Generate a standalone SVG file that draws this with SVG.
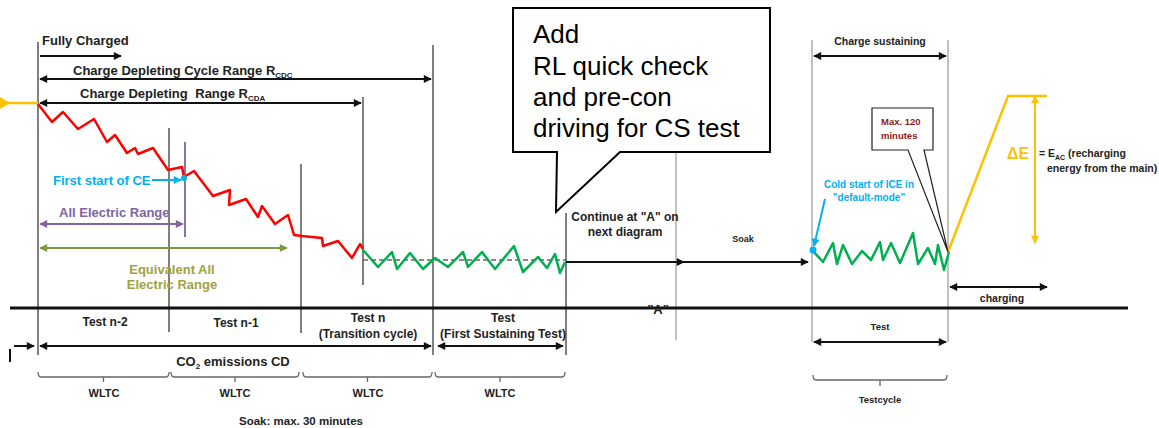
<svg xmlns="http://www.w3.org/2000/svg" width="1159" height="428" viewBox="0 0 1159 428">
<style>
text{font-family:"Liberation Sans",Arial,sans-serif;font-weight:bold;fill:#222}
.c{text-anchor:middle}
.vl{stroke:#555;stroke-width:1.5;fill:none}
.vll{stroke:#999;stroke-width:1.2;fill:none}
.ar{stroke:#111;stroke-width:2;fill:none;marker-end:url(#ah)}
.dar{stroke:#111;stroke-width:2;fill:none;marker-start:url(#ah);marker-end:url(#ah)}
.br{stroke:#666;stroke-width:1.3;fill:none}
.call{font-weight:normal;font-size:26px;fill:#000}
</style>
<defs>
<marker id="ah" viewBox="0 0 10 10" refX="9" refY="5" markerWidth="4.5" markerHeight="4" orient="auto-start-reverse"><path d="M0,0L10,5L0,10z" fill="#111"/></marker>
<marker id="ahp" viewBox="0 0 10 10" refX="9" refY="5" markerWidth="4.5" markerHeight="4" orient="auto-start-reverse"><path d="M0,0L10,5L0,10z" fill="#8064A2"/></marker>
<marker id="aho" viewBox="0 0 10 10" refX="9" refY="5" markerWidth="4.5" markerHeight="4" orient="auto-start-reverse"><path d="M0,0L10,5L0,10z" fill="#7A9A40"/></marker>
<marker id="ahc" viewBox="0 0 10 10" refX="9" refY="5" markerWidth="4.5" markerHeight="4" orient="auto-start-reverse"><path d="M0,0L10,5L0,10z" fill="#00B0F0"/></marker>
<marker id="ahy" viewBox="0 0 10 10" refX="9" refY="5" markerWidth="4.5" markerHeight="4" orient="auto-start-reverse"><path d="M0,0L10,5L0,10z" fill="#FFC000"/></marker>
</defs>

<g id="gridlines">
<path class="vl" d="M38,42V355M169,128V332M301,164V333M363,97V285M433,45V355M566,213V355"/>
<path d="M185,142V237" stroke="#8064A2" stroke-width="1.8"/>
<path class="vll" d="M676,153V340M812,40V342M948,40V342"/>
<path d="M10,308H1128" stroke="#111" stroke-width="3"/>
<path d="M10,349V362" stroke="#111" stroke-width="2"/>
</g>

<g id="curves">
<path d="M0,103H38" stroke="#FFC000" stroke-width="2.5"/>
<polygon points="0,97 10,103 0,109" fill="#FFC000"/>
<polyline fill="none" stroke="#FF0000" stroke-width="2.5" stroke-linejoin="round" points="38,104 52,122 63,112 78,129 94,119 107,142 115,135 127,153 135,148 138,154 153,148 168,170 182,167 184,177 194,171 213,196 230,190 229,205 246,199 258,217 262,206 275,224 288,215 294,235 302,236 322,238 323,246 338,241 352,258 360,244 363,249"/>
<path d="M363,260H566" stroke="#666" stroke-width="1.5" stroke-dasharray="5,3"/>
<polyline fill="none" stroke="#00B050" stroke-width="2.5" stroke-linejoin="round" points="363,250 378,267 392,252 397,269 410,253 423,269 435,258 448,267 463,252 468,267 482,252 495,269 514,246 523,272 538,257 547,268 555,254 560,273 565,262"/>
<polyline fill="none" stroke="#00B050" stroke-width="2.5" stroke-linejoin="round" points="813,251 823,262 833,243 837,264 843,245 852,264 862,251 871,260 880,242 883,260 891,243 900,263 913,233 918,264 928,248 935,264 938,245 944,270 949,252"/>
<polyline fill="none" stroke="#FFC000" stroke-width="2.5" points="948,252 1008,96 1047,96"/>
</g>

<g id="connectors">
<path class="ar" d="M40,56H121"/>
<path class="dar" d="M40,79H431"/>
<path class="dar" d="M40,103H361"/>
<path class="dar" d="M814,56H946"/>
<path class="dar" d="M814,342H946"/>
<path class="dar" d="M950,287H1047"/>
<path class="dar" d="M40,346H431"/>
<path class="dar" d="M438,346H563"/>
<path class="ar" d="M14,346H34"/>
<path class="ar" d="M566,262H684"/>
<path class="ar" d="M684,262H808"/>
<path d="M40,224H183" stroke="#8064A2" stroke-width="2" marker-start="url(#ahp)" marker-end="url(#ahp)"/>
<path d="M40,248H287" stroke="#7A9A40" stroke-width="2" marker-start="url(#aho)" marker-end="url(#aho)"/>
<path d="M152,180H181" stroke="#00B0F0" stroke-width="2" marker-end="url(#ahc)"/>
<circle cx="184" cy="178" r="3" fill="#00B0F0"/>
<path d="M825,199L814,246" stroke="#00B0F0" stroke-width="2" marker-end="url(#ahc)"/>
<circle cx="813" cy="250" r="3.5" fill="#00B0F0"/>
<path d="M1035,96V243" stroke="#FFC000" stroke-width="2" marker-start="url(#ahy)" marker-end="url(#ahy)"/>
<path class="br" d="M38,372Q38,377 41,377H166Q169,377 169,372M103.5,377V382"/>
<path class="br" d="M171,372Q171,377 174,377H296Q299,377 299,372M235,377V382"/>
<path class="br" d="M303,372Q303,377 306,377H429Q432,377 432,372M367.5,377V382"/>
<path class="br" d="M435,372Q435,377 438,377H562Q565,377 565,372M500,377V382"/>
<path class="br" d="M813,375Q813,380 816,380H944Q947,380 947,375M880,380V386"/>
</g>

<g id="labels-top">
<text x="42" y="45" font-size="13">Fully Charged</text>
<text x="73" y="75" font-size="13">Charge Depleting Cycle Range R<tspan font-size="8" dy="3">CDC</tspan></text>
<text x="80" y="98" font-size="13">Charge Depleting <tspan dx="4">Range R</tspan><tspan font-size="8" dy="3">CDA</tspan></text>
<text x="53" y="185" font-size="13" style="fill:#00B0F0">First start of CE</text>
<text x="59" y="217" font-size="13" style="fill:#8064A2">All Electric Range</text>
<text class="c" x="172" y="274" font-size="13" style="fill:#A0A23C">Equivalent All</text>
<text class="c" x="172" y="289" font-size="13" style="fill:#A0A23C">Electric Range</text>
</g>

<g id="labels-middle">
<text class="c" x="625" y="221" font-size="12">Continue at "A" on</text>
<text class="c" x="625" y="236" font-size="12">next diagram</text>
<text class="c" x="743" y="242" font-size="9">Soak</text>
<text class="c" x="658" y="314" font-size="13">"A"</text>
</g>

<g id="callout">
<path d="M513,8H770V152H620L556,212L557,152H513Z" fill="#fff" stroke="#000" stroke-width="2"/>
<text class="call" x="533" y="43">Add</text>
<text class="call" x="533" y="75">RL quick check</text>
<text class="call" x="533" y="106">and pre-con</text>
<text class="call" x="533" y="137">driving for CS test</text>
</g>

<g id="labels-right">
<text class="c" x="880" y="45" font-size="10.5">Charge sustaining</text>
<path d="M872,108H933V150H924L948,252L908,150H872Z" fill="#fff" stroke="#222" stroke-width="1.2"/>
<text x="881" y="125" font-size="9.5" style="fill:#8B1A1A">Max. 120</text>
<text x="881" y="139" font-size="9.5" style="fill:#8B1A1A">minutes</text>
<text class="c" x="869" y="188" font-size="10" style="fill:#00B0F0">Cold start of ICE in</text>
<text class="c" x="869" y="201" font-size="10" style="fill:#00B0F0">"default-mode"</text>
<text x="1007" y="159" font-size="16" style="fill:#FFC000">ΔE</text>
<text x="1039" y="157" font-size="10.5">= E<tspan font-size="7" dy="3">AC</tspan><tspan dy="-3"> (recharging</tspan></text>
<text x="1047" y="172" font-size="10.5">energy from the main)</text>
<text class="c" x="1002" y="302" font-size="10.5">charging</text>
<text class="c" x="880" y="330" font-size="9.5">Test</text>
<text class="c" x="880" y="403" font-size="9.5">Testcycle</text>
</g>

<g id="labels-bottom">
<text class="c" x="105" y="326" font-size="12">Test n-2</text>
<text class="c" x="236" y="327" font-size="12">Test n-1</text>
<text class="c" x="368" y="322" font-size="12">Test n</text>
<text class="c" x="368" y="338" font-size="12">(Transition cycle)</text>
<text class="c" x="503" y="322" font-size="12">Test</text>
<text class="c" x="503" y="338" font-size="12">(First Sustaining Test)</text>
<text class="c" x="233" y="366" font-size="13">CO<tspan font-size="8" dy="3">2</tspan><tspan dy="-3"> emissions CD</tspan></text>
<text class="c" x="104" y="397" font-size="11">WLTC</text>
<text class="c" x="235" y="397" font-size="11">WLTC</text>
<text class="c" x="368" y="397" font-size="11">WLTC</text>
<text class="c" x="500" y="397" font-size="11">WLTC</text>
<text class="c" x="301" y="425" font-size="11.5">Soak: max. 30 minutes</text>
</g>
</svg>
